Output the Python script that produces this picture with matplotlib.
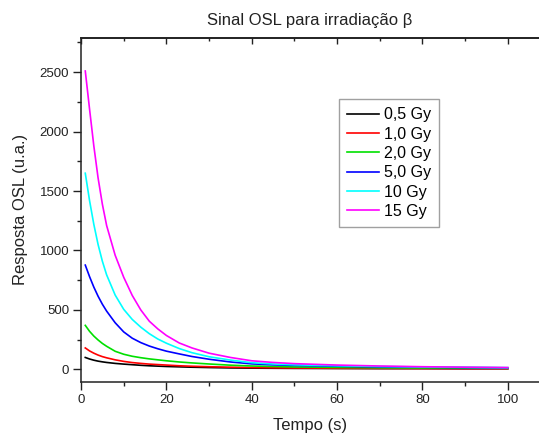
import matplotlib
matplotlib.use("Agg")
import matplotlib.pyplot as plt
import numpy as np

plt.rcParams["font.family"] = ["Liberation Sans", "DejaVu Sans"]

# ── Data (time in s, OSL response in a.u.) ───────────────────────────────────
tempo = [1, 2, 3, 4, 5, 6, 8, 10, 12, 14, 16, 18, 20, 23, 26, 30, 35, 40, 45,
         50, 60, 70, 80, 90, 100]

osl_05 = [100, 87, 77, 69, 63, 58, 50, 44, 39, 34, 30, 27, 24, 21, 18, 15, 12,
          10, 9, 8, 7, 6, 6, 5, 5]
osl_10 = [180, 155, 136, 120, 107, 97, 80, 67, 57, 50, 44, 40, 36, 30, 26, 22,
          18, 15, 13, 11, 9, 8, 7, 6, 6]
osl_20 = [370, 320, 280, 247, 218, 194, 152, 127, 110, 98, 88, 80, 72, 62, 54,
          45, 35, 28, 24, 20, 16, 13, 11, 10, 9]
osl_50 = [877, 780, 692, 615, 548, 490, 392, 315, 262, 225, 196, 173, 153, 130,
          108, 85, 62, 46, 38, 33, 26, 21, 18, 15, 13]
osl_100 = [1650, 1420, 1220, 1050, 910, 795, 625, 505, 420, 355, 300, 255, 220,
           175, 140, 106, 78, 56, 45, 38, 30, 24, 20, 17, 14]
osl_150 = [2510, 2190, 1880, 1610, 1390, 1210, 960, 775, 622, 500, 405, 340,
           285, 222, 180, 136, 100, 72, 58, 48, 36, 28, 22, 18, 15]

series = [osl_05, osl_10, osl_20, osl_50, osl_100, osl_150]
labels = ["0,5 Gy", "1,0 Gy", "2,0 Gy", "5,0 Gy", "10 Gy", "15 Gy"]
colors = ["#000000", "#ff0000", "#00e000", "#0000ff", "#00ffff", "#ff00ff"]

# ── Figure / axes ─────────────────────────────────────────────────────────────
fig = plt.figure(figsize=(5.39, 4.34), dpi=100)
ax = fig.add_axes([0.1503, 0.1205, 0.8497, 0.7926])

for y, lab, col in zip(series, labels, colors):
    ax.plot(tempo, y, color=col, linewidth=1.2, label=lab)

ax.set_xlim(0, 107.3)
ax.set_ylim(-104, 2790)
ax.set_xticks(np.arange(0, 101, 20))
ax.set_xticks(np.arange(0, 101, 10), minor=True)
ax.set_yticks(np.arange(0, 2501, 500))
ax.set_yticks(np.arange(0, 2751, 250), minor=True)

for s in ax.spines.values():
    s.set_linewidth(1.1)
    s.set_color("#222222")
ax.spines["right"].set_visible(False)

ax.tick_params(which="major", direction="out", length=5.5, width=1.0,
               labelsize=9.5, colors="#222222", pad=3)
ax.tick_params(which="minor", direction="out", length=3, width=1.0,
               colors="#222222")

# top axis: ticks pointing in, no labels
top = ax.secondary_xaxis("top")
top.set_xticks(np.arange(0, 101, 20))
top.set_xticks(np.arange(0, 101, 10), minor=True)
top.tick_params(which="major", direction="in", length=4.5, width=1.0,
                labeltop=False, colors="#222222")
top.tick_params(which="minor", direction="in", length=2.5, width=1.0,
                colors="#222222")
top.spines["top"].set_linewidth(1.1)

ax.set_xlabel("Tempo (s)", fontsize=12, labelpad=9, color="#222222")
ax.set_ylabel("Resposta OSL (u.a.)", fontsize=12, labelpad=8, color="#222222")
ax.set_title("Sinal OSL para irradiação β", fontsize=12, pad=9,
             color="#222222")

leg = ax.legend(loc="upper left", bbox_to_anchor=(0.563, 0.821), fontsize=11.5,
                frameon=True, fancybox=False, edgecolor="#888888",
                handlelength=2.0, handletextpad=0.3, labelspacing=0.27,
                borderpad=0.5, borderaxespad=0)
leg.get_frame().set_linewidth(1.0)

fig.savefig("out.png", dpi=100)
